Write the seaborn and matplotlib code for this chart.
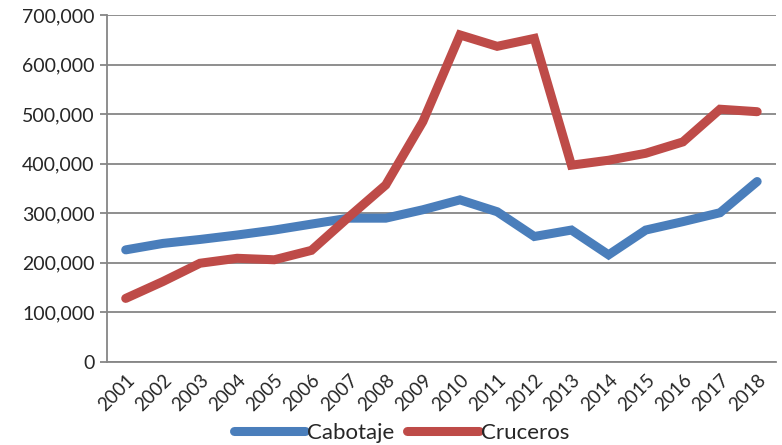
import pandas as pd
import numpy as np
import matplotlib
matplotlib.use("Agg")
import matplotlib.pyplot as plt
import seaborn as sns
from matplotlib.ticker import FuncFormatter, MultipleLocator

years = list(range(2001, 2019))
cabotaje = [226000, 239000, 247000, 256000, 266000, 278000, 290000, 290000, 307000,
            327000, 303000, 253000, 266000, 216000, 266000, 283000, 301000, 364000]
cruceros = [128000, 162000, 199000, 209000, 206000, 225000, 292000, 357000, 485000,
            660000, 637000, 653000, 397000, 407000, 421000, 444000, 510000, 505000]
series_names = ["Cabotaje", "Cruceros"]
colors = ["#4A7EBB", "#BE4B48"]

df = pd.DataFrame({
    "anio": years * 2,
    "valor": cabotaje + cruceros,
    "serie": [series_names[0]] * len(years) + [series_names[1]] * len(years),
})

sns.set_style("white")
plt.rcParams["font.family"] = ["Lato", "DejaVu Sans"]

fig = plt.figure(figsize=(7.82, 4.45), dpi=100)
ax = fig.add_axes([0.137, 0.187, 0.855, 0.779])

sns.lineplot(data=df, x="anio", y="valor", hue="serie", palette=colors,
             linewidth=6.5, ax=ax, solid_capstyle="round", solid_joinstyle="miter")

ax.set_xlim(2000.5, 2018.5)
ax.set_ylim(0, 700000)
ax.yaxis.set_major_locator(MultipleLocator(100000))
ax.yaxis.set_major_formatter(FuncFormatter(lambda v, p: f"{int(v):,}"))
ax.grid(axis="y", color="#868686", linewidth=1.3)
ax.set_axisbelow(True)

ax.set_xticks(years)
ax.set_xticklabels([str(y) for y in years], rotation=45, ha="right",
                   rotation_mode="anchor", fontsize=13.5)
ax.set_xticks(np.arange(2000.5, 2019, 1), minor=True)
ax.tick_params(axis="x", which="major", length=0, pad=7)
ax.tick_params(axis="x", which="minor", length=5, width=1.3, color="#868686", direction="out")
ax.tick_params(axis="y", length=5, width=1.3, color="#868686", labelsize=14, pad=4, left=True)

for s in ["top", "right"]:
    ax.spines[s].set_visible(False)
for s in ["left", "bottom"]:
    ax.spines[s].set_color("#868686")
    ax.spines[s].set_linewidth(1.3)

ax.set_xlabel("")
ax.set_ylabel("")
leg = ax.legend(loc="lower center", bbox_to_anchor=(0.44, -0.26), ncol=2, frameon=False,
                fontsize=16, handlelength=3.2, handletextpad=0.1, columnspacing=0.6,
                borderaxespad=0)
for line in leg.get_lines():
    line.set_linewidth(6.5)
    line.set_solid_capstyle("round")

fig.savefig("out.png", dpi=100)
